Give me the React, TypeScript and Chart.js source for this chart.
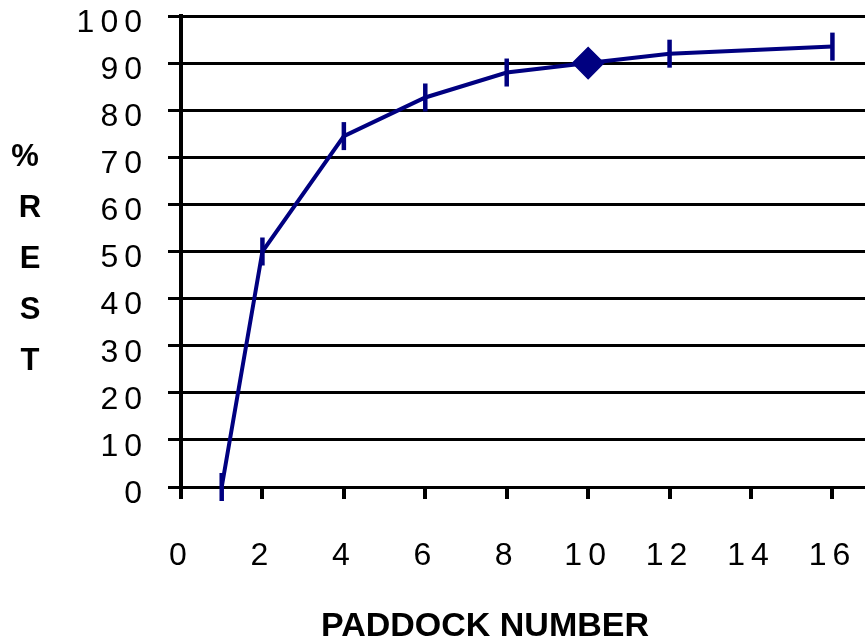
import React, { useEffect, useRef } from "react";
import { Chart, registerables } from "chart.js";

Chart.register(...registerables);

// ---- data ----
const paddocks = [1, 2, 4, 6, 8, 10, 12, 16];
const restPercent = [0, 50, 74.5, 82.7, 88, 90, 92, 93.5];
const xTickValues = [0, 2, 4, 6, 8, 10, 12, 14, 16];
const yTickValues = [0, 10, 20, 30, 40, 50, 60, 70, 80, 90, 100];
const yTitleLetters = ["%", "R", "E", "S", "T"];
const xTitle = "PADDOCK NUMBER";
const highlightedPaddock = 10;

const NAVY = "#000080";
const FONT = '"Liberation Sans", Arial, sans-serif';

const textPlugin = {
  id: "textPlugin",
  beforeDraw(chart: any) {
    chart.ctx.letterSpacing = "6px";
  },
  afterDraw(chart: any) {
    const ctx = chart.ctx;
    ctx.letterSpacing = "0px";
    ctx.save();
    ctx.fillStyle = "#000";
    ctx.textAlign = "center";
    ctx.textBaseline = "middle";
    ctx.font = `bold 31px ${FONT}`;
    yTitleLetters.forEach((ch, i) => {
      ctx.fillText(ch, i === 0 ? 25 : 30, 157 + 51 * i);
    });
    ctx.font = `bold 34px ${FONT}`;
    ctx.fillText(xTitle, 485, 627);
    ctx.restore();
  },
};

export default function App() {
  const ref = useRef<HTMLCanvasElement | null>(null);
  useEffect(() => {
    if (!ref.current) return;
    const isHi = (p: number) => p === highlightedPaddock;
    const chart = new Chart(ref.current, {
      type: "line",
      data: {
        datasets: [
          {
            data: paddocks.map((x, i) => ({ x, y: restPercent[i] })),
            borderColor: NAVY,
            backgroundColor: NAVY,
            borderWidth: 4,
            tension: 0,
            clip: false as any,
            pointStyle: paddocks.map((p) => (isHi(p) ? "rectRot" : "line")) as any,
            pointRotation: paddocks.map((p) => (isHi(p) ? 0 : 90)),
            pointRadius: paddocks.map((p) => (isHi(p) ? 15.5 : 14)),
            pointHoverRadius: paddocks.map((p) => (isHi(p) ? 15.5 : 14)),
            pointBorderWidth: paddocks.map((p) => (isHi(p) ? 1.5 : 4.5)),
            pointBackgroundColor: NAVY,
            pointBorderColor: NAVY,
          },
        ],
      },
      options: {
        responsive: false,
        animation: false,
        events: [],
        layout: { autoPadding: false, padding: { top: 16, left: 0, right: 0, bottom: 0 } },
        plugins: { legend: { display: false }, tooltip: { enabled: false } },
        scales: {
          x: {
            type: "linear",
            min: 0,
            max: 16.8,
            afterBuildTicks: (s: any) => {
              s.ticks = xTickValues.map((v) => ({ value: v }));
            },
            afterFit: (s: any) => {
              s.height = 156;
              s.paddingLeft = 0;
              s.paddingRight = 0;
            },
            grid: {
              drawOnChartArea: false,
              drawTicks: true,
              tickLength: 12,
              color: "#000",
              lineWidth: 4,
            },
            border: { display: false },
            ticks: {
              padding: 0,
              color: "#000",
              autoSkip: false,
              maxRotation: 0,
              font: { family: FONT, size: 32, lineHeight: 3.55 },
            },
          },
          y: {
            type: "linear",
            min: 0,
            max: 100,
            afterBuildTicks: (s: any) => {
              s.ticks = yTickValues.map((v) => ({ value: v }));
            },
            afterFit: (s: any) => {
              s.width = 181;
              s.paddingTop = 0;
              s.paddingBottom = 0;
            },
            grid: { color: "#000", lineWidth: 3, tickLength: 13 },
            border: { color: "#000", width: 4 },
            ticks: {
              padding: 20,
              labelOffset: 7,
              color: "#000",
              font: { family: FONT, size: 32, lineHeight: 1 },
            },
          },
        },
      },
      plugins: [textPlugin],
    });
    return () => chart.destroy();
  }, []);
  return (
    <canvas
      ref={ref}
      width={865}
      height={643}
      style={{ position: "fixed", left: 0, top: 0, display: "block", background: "#fff" }}
    />
  );
}
